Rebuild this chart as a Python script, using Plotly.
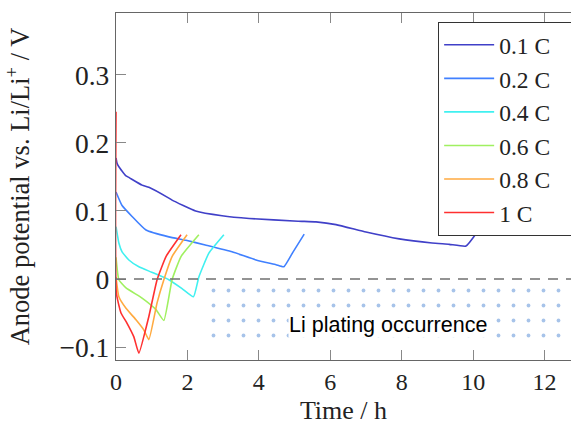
import plotly.graph_objects as go

# discharge curves: time (h) and anode potential (V)
t01 = [0, 0.03, 0.08, 0.27, 0.37, 0.73, 0.92, 1.48, 1.57, 2.23, 2.97, 3.73, 5.1, 5.6, 6.16, 7.0, 7.93, 8.85, 9.33, 9.8, 10.1]
v01 = [0.178, 0.17, 0.165, 0.152, 0.149, 0.138, 0.135, 0.119, 0.116, 0.100, 0.093, 0.089, 0.085, 0.084, 0.080, 0.069, 0.059, 0.053, 0.051, 0.0485, 0.068]

t02 = [0, 0.17, 0.45, 0.84, 1.48, 1.96, 2.5, 3.25, 3.92, 4.48, 4.7, 4.96, 5.27]
v02 = [0.128, 0.108, 0.092, 0.072, 0.062, 0.057, 0.050, 0.040, 0.028, 0.021, 0.018, 0.040, 0.066]

t04 = [0, 0.08, 0.17, 0.36, 0.64, 1.0, 1.48, 1.85, 2.17, 2.32, 2.6, 3.02]
v04 = [0.077, 0.053, 0.040, 0.028, 0.018, 0.010, -0.001, -0.014, -0.026, 0.003, 0.038, 0.065]

t06 = [0, 0.08, 0.28, 0.73, 1.12, 1.34, 1.57, 1.82, 2.32]
v06 = [0.032, -0.001, -0.013, -0.028, -0.045, -0.061, -0.001, 0.033, 0.065]

t08 = [0, 0.08, 0.28, 0.56, 0.78, 0.92, 1.15, 1.34, 1.57, 1.99]
v08 = [0.003, -0.026, -0.043, -0.060, -0.075, -0.089, -0.035, -0.001, 0.033, 0.065]

t10 = [0, 0.01, 0.14, 0.31, 0.5, 0.64, 0.92, 1.15, 1.4, 1.82]
v10 = [0.246, -0.021, -0.050, -0.065, -0.085, -0.109, -0.055, -0.001, 0.033, 0.065]

labels = ["0.1 C", "0.2 C", "0.4 C", "0.6 C", "0.8 C", "1 C"]
colors = ["#4040c8", "#4080ff", "#40f0f0", "#a0f060", "#ffaa40", "#ff3030"]

# plating region (dotted box below 0 V)
plating_t = [2.6, 13, 13, 2.6, 2.6]
plating_v = [-0.011, -0.011, -0.099, -0.099, -0.011]

serif = "Liberation Serif"
pad = "\u00a0" * 5  # legend box runs off the right edge in the original

fig = go.Figure()

fig.add_trace(go.Scatter(
    x=plating_t, y=plating_v, mode="lines", fill="toself",
    line=dict(width=0), fillcolor="rgba(0,0,0,0)",
    fillpattern=dict(shape=".", size=15, solidity=0.05, fgcolor="#5088d4"),
    showlegend=False, hoverinfo="skip",
))

curves = [(t01, v01), (t02, v02), (t04, v04), (t06, v06), (t08, v08), (t10, v10)]
for (t, v), name, col in zip(curves, labels, colors):
    fig.add_trace(go.Scatter(
        x=t, y=v, mode="lines", name=name + pad,
        line=dict(color=col, width=1.6, shape="spline", smoothing=0.4),
    ))

fig.add_hline(y=0, line=dict(color="#707070", width=1.5, dash="10px,8px"))

fig.add_annotation(
    x=7.62, y=-0.0676, text="Li plating occurrence", showarrow=False,
    font=dict(family="Liberation Sans", size=21.5, color="black"),
    bgcolor="white", borderpad=0,
)

fig.update_layout(
    width=571, height=430,
    margin=dict(l=116, r=0, t=13, b=70, autoexpand=False),
    plot_bgcolor="white", paper_bgcolor="white",
    font=dict(family=serif, size=24, color="#222"),
    legend=dict(
        x=0.708, y=0.974, xanchor="left", yanchor="top",
        bgcolor="white", bordercolor="#333", borderwidth=1,
        font=dict(family=serif, size=23.5, color="#222"),
        tracegroupgap=0, itemwidth=50,
    ),
)

fig.update_xaxes(
    range=[0, 12.74], tickvals=[0, 2, 4, 6, 8, 10, 12], automargin=False,
    tickfont=dict(family=serif, size=24, color="#222"),
    showline=True, linecolor="#666", linewidth=1.3, mirror="ticks",
    ticks="inside", ticklen=10, tickcolor="#888", tickwidth=1.2,
    showgrid=False, zeroline=False,
    title=dict(text="Time / h", font=dict(family=serif, size=26), standoff=6),
)
fig.update_yaxes(
    range=[-0.119, 0.391], tickvals=[-0.1, 0, 0.1, 0.2, 0.3], automargin=False,
    tickfont=dict(family=serif, size=27.5, color="#222"),
    showline=True, linecolor="#666", linewidth=1.3,
    ticks="inside", ticklen=10, tickcolor="#888", tickwidth=1.2,
    showgrid=False, zeroline=False,
    title=dict(text="Anode potential vs. Li/Li<sup>+</sup> / V", font=dict(family=serif, size=26.5), standoff=22),
)

# drop the browser's default body margin so the figure sits at the page corner
fig.write_html(
    "out.html",
    config={"displayModeBar": False},
    post_script="document.body.style.margin='0';document.body.style.overflow='hidden';",
)
